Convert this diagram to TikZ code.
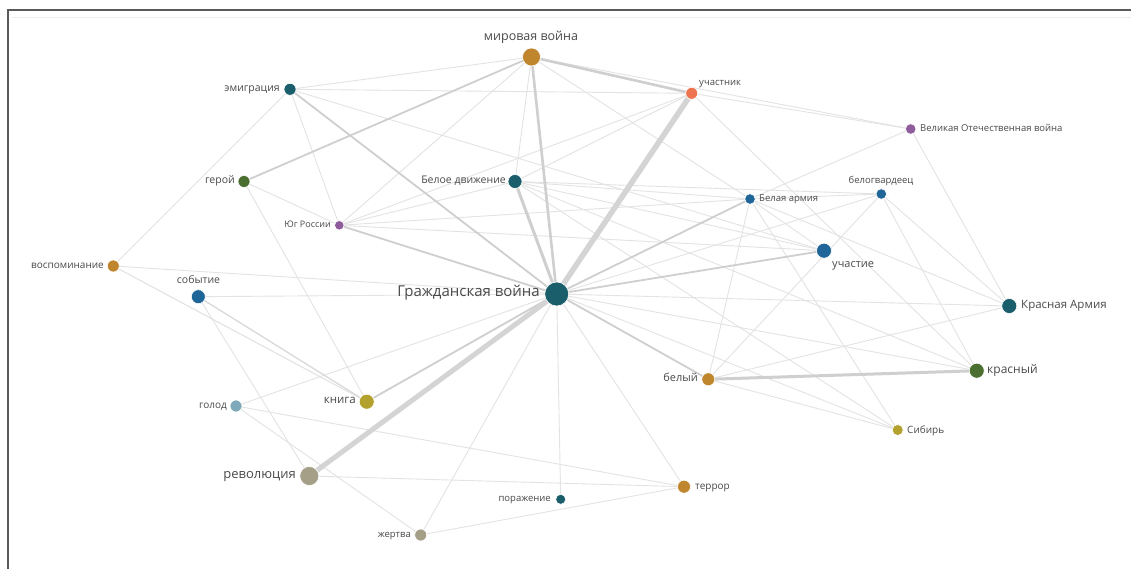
\documentclass[tikz,border=0pt]{standalone}
\usepackage{fontspec}
\setmainfont{Open Sans}
\definecolor{cTeal}{HTML}{1B5E6B}
\definecolor{cOchre}{HTML}{C0862E}
\definecolor{cOrange}{HTML}{EE7350}
\definecolor{cPurple}{HTML}{8E5B9B}
\definecolor{cGreen}{HTML}{4B6E31}
\definecolor{cBlue}{HTML}{1F6597}
\definecolor{cOlive}{HTML}{B3A12E}
\definecolor{cGrey}{HTML}{7EA9BA}
\definecolor{cBeige}{HTML}{A69F87}
\definecolor{cText}{HTML}{4A4A4A}
\definecolor{cThin}{HTML}{E3E3E3}
\definecolor{cMid}{HTML}{CFCFCF}
\definecolor{cFrame}{HTML}{5A5A5A}
\definecolor{cHline}{HTML}{EDEDED}
\pgfdeclarelayer{bg}
\pgfsetlayers{bg,main}
\tikzset{
  dot/.style={circle, inner sep=0pt, draw=white, line width=0.6pt},
  lbl/.style={text=cText, inner sep=0pt},
  eT/.style={draw=cThin, line width=0.9pt},
  eM/.style={draw=cMid, line width=1.8pt},
  eW/.style={draw=cMid, line width=2.6pt},
  eH/.style={draw=cMid!90!white, line width=5.5pt},
  frameline/.style={draw=cFrame, line width=1.3pt},
  hline/.style={draw=cHline, line width=1.5pt},
  fs/.style={font=\fontsize{#1}{#1}\selectfont}
}
\begin{document}
\begin{tikzpicture}[x=1pt,y=-1pt]
\useasboundingbox (0,0) rectangle (1131,569);
% nodes
\node[dot, fill=cTeal,   minimum size=24pt] (GW)   at (556.7,294) {};
\node[dot, fill=cOchre,  minimum size=18pt] (MV)   at (531.5,57) {};
\node[dot, fill=cOrange, minimum size=12pt] (UCH)  at (691.7,93.3) {};
\node[dot, fill=cTeal,   minimum size=12pt] (EM)   at (290,89.3) {};
\node[dot, fill=cPurple, minimum size=10.5pt] (VOV) at (910.7,129) {};
\node[dot, fill=cGreen,  minimum size=12pt] (GER)  at (244,181.5) {};
\node[dot, fill=cTeal,   minimum size=14pt] (BD)   at (515,181.5) {};
\node[dot, fill=cBlue,   minimum size=10.5pt] (BA)  at (750,199) {};
\node[dot, fill=cBlue,   minimum size=10.5pt] (BG)  at (881.3,194) {};
\node[dot, fill=cPurple, minimum size=9.5pt] (YUG)  at (339.3,225.3) {};
\node[dot, fill=cBlue,   minimum size=15pt] (UCT)  at (824,250.7) {};
\node[dot, fill=cOchre,  minimum size=12pt] (VOSP) at (113.3,266) {};
\node[dot, fill=cBlue,   minimum size=14pt] (SOB)  at (198.3,296.7) {};
\node[dot, fill=cTeal,   minimum size=15pt] (KA)   at (1009.3,306) {};
\node[dot, fill=cGreen,  minimum size=15pt] (KR)   at (976.7,370.7) {};
\node[dot, fill=cOchre,  minimum size=13pt] (BEL)  at (708.3,379.3) {};
\node[dot, fill=cOlive,  minimum size=15pt] (KN)   at (366.7,401.7) {};
\node[dot, fill=cGrey,   minimum size=12pt] (GOL)  at (236,406) {};
\node[dot, fill=cOlive,  minimum size=11pt] (SIB)  at (897.7,430) {};
\node[dot, fill=cBeige,  minimum size=19pt] (REV)  at (309.3,476) {};
\node[dot, fill=cOchre,  minimum size=13pt] (TER)  at (684,486.7) {};
\node[dot, fill=cTeal,   minimum size=10pt] (POR)  at (560.7,499.3) {};
\node[dot, fill=cBeige,  minimum size=12pt] (ZH)   at (420.7,535) {};
% labels
\node[lbl, fs=15,   anchor=mid east] (GWl)  at (540,294) {Гражданская война};
\node[lbl, fs=12.5, anchor=mid]      (MVl)  at (531,38) {мировая война};
\node[lbl, fs=9.5,  anchor=mid west] (UCHl) at (699,83) {участник};
\node[lbl, fs=10.5, anchor=mid east] (EMl)  at (280,89) {эмиграция};
\node[lbl, fs=9.5,  anchor=mid west] (VOVl) at (920,128.5) {Великая Отечественная война};
\node[lbl, fs=10.5, anchor=mid east] (GERl) at (235,181) {герой};
\node[lbl, fs=10.5, anchor=mid east] (BDl)  at (506,181) {Белое движение};
\node[lbl, fs=9.5,  anchor=mid west] (BAl)  at (759,198.5) {Белая армия};
\node[lbl, fs=9.5,  anchor=mid]      (BGl)  at (881,181) {белогвардеец};
\node[lbl, fs=9,    anchor=mid east] (YUGl) at (331,225) {Юг России};
\node[lbl, fs=11,   anchor=mid west] (UCTl) at (832,264.5) {участие};
\node[lbl, fs=10,   anchor=mid east] (VOSPl) at (104,266) {воспоминание};
\node[lbl, fs=10.5, anchor=mid]      (SOBl) at (198.5,281) {событие};
\node[lbl, fs=11.5, anchor=mid west] (KAl)  at (1021,305.5) {Красная Армия};
\node[lbl, fs=12,   anchor=mid west] (KRl)  at (987,370.5) {красный};
\node[lbl, fs=11,   anchor=mid east] (BELl) at (698,379) {белый};
\node[lbl, fs=11.5, anchor=mid east] (KNl)  at (356,400.5) {книга};
\node[lbl, fs=10,   anchor=mid east] (GOLl) at (227,405.5) {голод};
\node[lbl, fs=10,   anchor=mid west] (SIBl) at (907,430.5) {Сибирь};
\node[lbl, fs=13,   anchor=mid east] (REVl) at (296,475.5) {революция};
\node[lbl, fs=10,   anchor=mid west] (TERl) at (695,486.5) {террор};
\node[lbl, fs=9.5,  anchor=mid east] (PORl) at (551,499) {поражение};
\node[lbl, fs=9.5,  anchor=mid east] (ZHl)  at (411,535) {жертва};
\begin{pgfonlayer}{bg}
\fill[white] (0,0) rectangle (1131,569);
\coordinate (fBL) at (8,569);
\coordinate (fTL) at (8,10);
\coordinate (fTR) at (1131,10);
\coordinate (hL) at (12,17.5);
\coordinate (hR) at (1131,17.5);
\draw[hline] (hL) -- (hR);
\draw[frameline] (fBL) -- (fTL) -- (fTR);
% thin edges
\foreach \a/\b in {MV/EM, MV/BD, MV/YUG, MV/VOV, MV/BA,
  UCH/VOV, UCH/EM, UCH/YUG, UCH/BD, UCH/KR,
  EM/UCT, EM/YUG, EM/VOSP,
  GER/YUG, GER/KN,
  YUG/BD, YUG/BA, YUG/UCT,
  BD/BA, BD/BG, BD/UCT, BD/KR, BD/SIB,
  BA/BG, BA/VOV, BA/UCT, BA/KA, BA/SIB, BA/BEL,
  BG/GW, BG/BEL, BG/KA, BG/KR,
  VOV/KA,
  GW/KA, GW/KR, GW/SIB, GW/TER, GW/POR, GW/ZH, GW/SOB, GW/VOSP, GW/GOL,
  BEL/KA, BEL/SIB,
  GOL/TER, GOL/ZH,
  REV/TER, REV/SOB,
  ZH/TER}
  \draw[eT] (\a) -- (\b);
% medium edges
\foreach \a/\b in {GW/EM, GW/YUG, GW/BA, GW/UCT, GW/BEL, GW/KN, MV/GER}
  \draw[eM] (\a) -- (\b);
\draw[eT, line width=1.3pt, draw=cMid!80!white] (SOB) -- (KN);
\draw[eT, line width=1.1pt] (VOSP) -- (KN);
\draw[eW] (GW) -- (MV);
\draw[eW] (MV) -- (UCH);
\draw[eW, line width=3pt] (GW) -- (BD);
\draw[eW, line width=3pt] (BEL) -- (KR);
\draw[eH] (GW) -- (UCH);
\draw[eH, line width=5pt] (GW) -- (REV);
\end{pgfonlayer}
\end{tikzpicture}
\end{document}
